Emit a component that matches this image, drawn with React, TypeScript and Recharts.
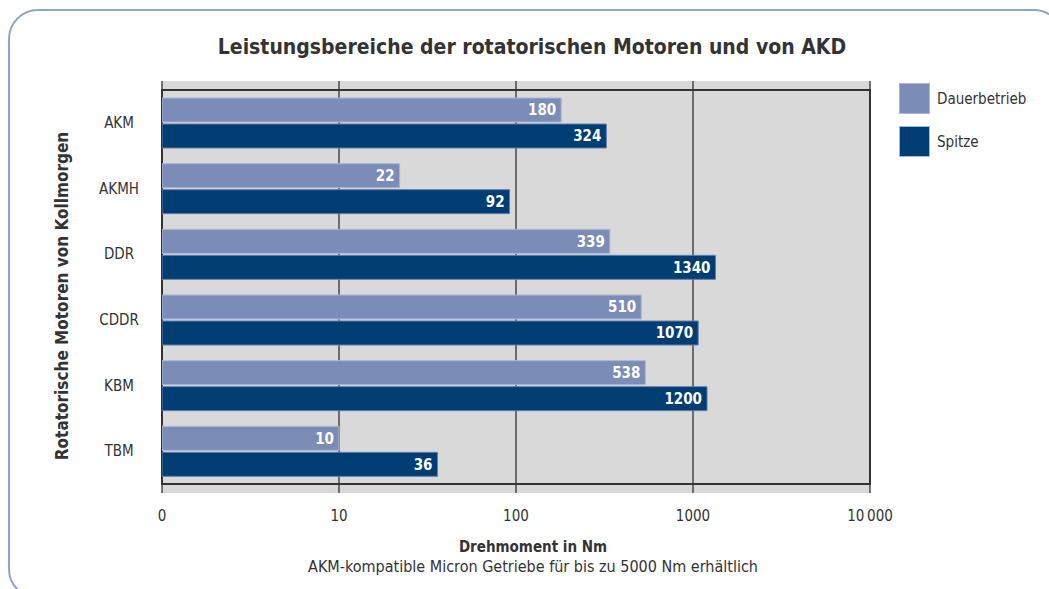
import { BarChart, Bar, XAxis, YAxis, CartesianGrid, LabelList, ReferenceArea } from 'recharts';

const categories = ['AKM', 'AKMH', 'DDR', 'CDDR', 'KBM', 'TBM'];
const dauerbetrieb = [180, 22, 339, 510, 538, 10];
const spitze = [324, 92, 1340, 1070, 1200, 36];
const xTicks = [1, 10, 100, 1000, 10000];
const xTickLabels = ['0', '10', '100', '1000', '10\u2009000'];
const seriesNames = ['Dauerbetrieb', 'Spitze'];

const FONT = "'Liberation Sans Narrow', 'DejaVu Sans Condensed', 'Roboto Condensed', Roboto, sans-serif";
const LIGHT = '#7b8db6';
const DARK = '#003d73';
const seriesColors = [LIGHT, DARK];

const data = categories.map((name, i) => ({ name, dauer: dauerbetrieb[i], spitze: spitze[i] }));

function CategoryTick(props: any) {
  const { x, y, payload } = props;
  return (
    <text x={x - 41} y={y} dy="0.35em" textAnchor="middle" fill="#333" fontSize={15} fontFamily={FONT}>
      {payload.value}
    </text>
  );
}

export default function App() {
  return (
    <div style={{ position: 'absolute', left: 0, top: 0, width: 1049, height: 589, overflow: 'hidden', background: '#fff', fontFamily: FONT }}>
      <div style={{ position: 'absolute', left: 8, top: 9, width: 1052, height: 586, border: '2px solid #8fa3cc', borderRadius: 30 }} />
      <div style={{ position: 'absolute', left: 0, width: 1064, top: 34, textAlign: 'center', fontSize: 21, fontWeight: 'bold', color: '#333', lineHeight: '26px' }}>
        Leistungsbereiche der rotatorischen Motoren und von AKD
      </div>
      <div style={{ position: 'absolute', left: 62, top: 296, transform: 'translate(-50%, -50%) rotate(-90deg)', whiteSpace: 'nowrap', fontSize: 17, fontWeight: 'bold', color: '#333' }}>
        Rotatorische Motoren von Kollmorgen
      </div>
      <div style={{ position: 'absolute', left: 0, width: 1066, top: 537, textAlign: 'center', fontSize: 15, fontWeight: 'bold', color: '#333', lineHeight: '20px' }}>
        Drehmoment in Nm
      </div>
      <div style={{ position: 'absolute', left: 0, width: 1066, top: 557, textAlign: 'center', fontSize: 16, color: '#333', lineHeight: '20px' }}>
        AKM-kompatible Micron Getriebe für bis zu 5000 Nm erhältlich
      </div>
      <div style={{ position: 'absolute', left: 899, top: 83, fontSize: 15, color: '#333' }}>
        {seriesNames.map((n, i) => (
          <div key={n} style={{ display: 'flex', alignItems: 'center', height: 31, marginBottom: 12 }}>
            <div style={{ width: 31, height: 31, background: seriesColors[i], marginRight: 7, boxSizing: 'border-box', border: '1px solid #a9b8d6' }} />
            <span>{n}</span>
          </div>
        ))}
      </div>
      <BarChart
        width={1049}
        height={589}
        data={data}
        layout="vertical"
        margin={{ top: 81, right: 179, bottom: 66, left: 0 }}
        barSize={24}
        barGap={2}
        style={{ position: 'absolute', left: 0, top: 0 }}
      >
        <CartesianGrid horizontal={false} stroke="#222" strokeWidth={1.2} fill="#d9d9d9" />
        <XAxis
          type="number"
          scale="log"
          domain={[1, 10000]}
          ticks={xTicks}
          allowDataOverflow
          axisLine={false}
          tickLine={false}
          tickSize={0}
          tickMargin={17}
          height={30}
          tick={{ fill: '#333', fontSize: 15, fontFamily: FONT }}
          tickFormatter={(v: number) => xTickLabels[xTicks.indexOf(v)] ?? String(v)}
        />
        <YAxis
          type="category"
          dataKey="name"
          width={162}
          axisLine={false}
          tickLine={false}
          tickSize={0}
          padding={{ top: 9, bottom: 9 }}
          tick={<CategoryTick />}
        />
        <Bar dataKey="dauer" name={seriesNames[0]} fill={LIGHT} stroke="#a9b8d6" strokeWidth={1} isAnimationActive={false}>
          <LabelList dataKey="dauer" position="insideRight" offset={5} fill="#fff" fontSize={15} fontWeight="bold" fontFamily={FONT} />
        </Bar>
        <Bar dataKey="spitze" name={seriesNames[1]} fill={DARK} stroke="#5f7fb0" strokeWidth={1} isAnimationActive={false}>
          <LabelList dataKey="spitze" position="insideRight" offset={5} fill="#fff" fontSize={15} fontWeight="bold" fontFamily={FONT} />
        </Bar>
        <ReferenceArea x1={1} x2={10000} fill="none" stroke="#333" strokeWidth={2} ifOverflow="visible" />
      </BarChart>
    </div>
  );
}
